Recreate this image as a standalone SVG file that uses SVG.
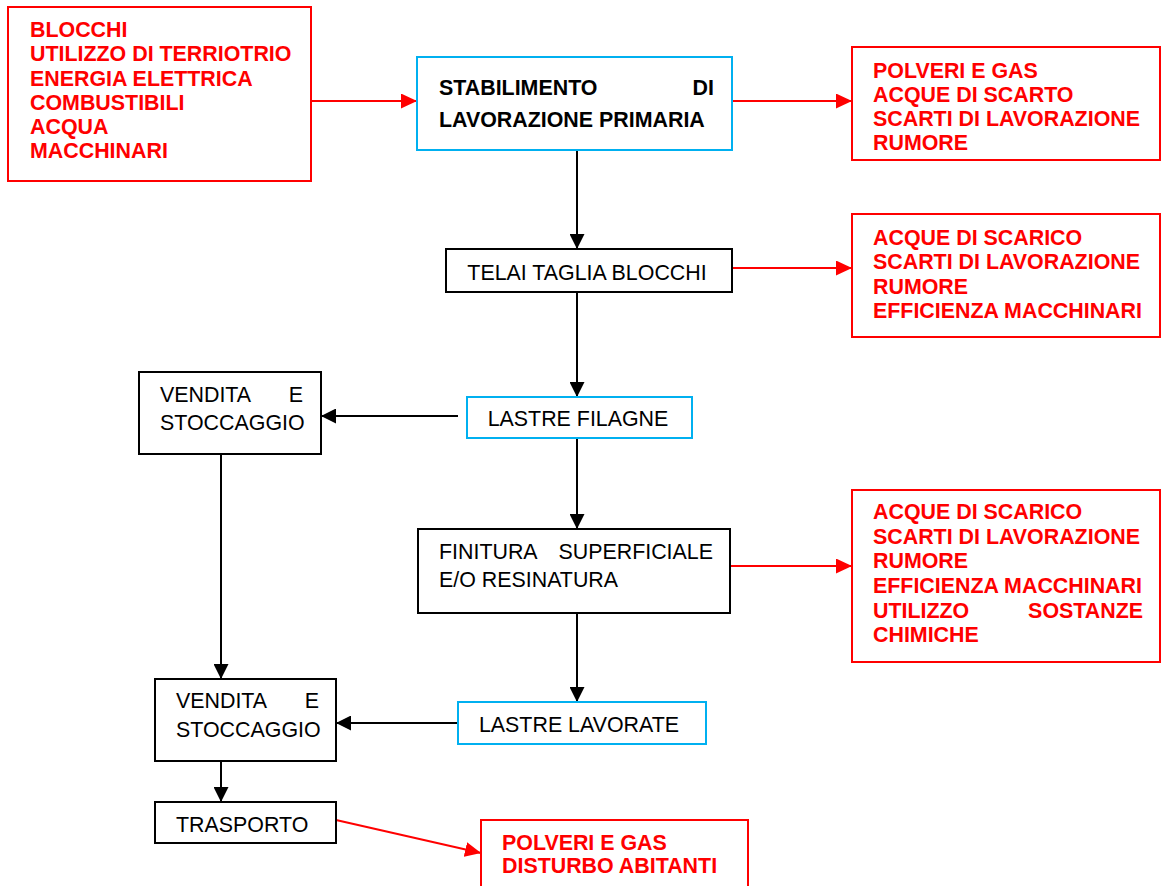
<svg xmlns="http://www.w3.org/2000/svg" width="1162" height="886" viewBox="0 0 1162 886">
  <defs>
    <marker id="arrowBlack" markerUnits="userSpaceOnUse" markerWidth="15" markerHeight="15" refX="15" refY="7.5" orient="auto">
      <path d="M0,0 L15,7.5 L0,15 Z" fill="#000"/>
    </marker>
    <marker id="arrowRed" markerUnits="userSpaceOnUse" markerWidth="16" markerHeight="15" refX="16" refY="7.5" orient="auto">
      <path d="M0,0 L16,7.5 L0,15 Z" fill="#ff0000"/>
    </marker>
    <style>
      .box { fill: #fff; stroke: #000; stroke-width: 2; }
      .blue { fill: #fff; stroke: #00b0f0; stroke-width: 2; }
      .red { fill: #fff; stroke: #ff0000; stroke-width: 2; }
      .t { font-family: "Liberation Sans", Arial, sans-serif; font-size: 21.4px; fill: #000; }
      .tb { font-family: "Liberation Sans", Arial, sans-serif; font-size: 21.4px; font-weight: bold; fill: #000; }
      .tr { font-family: "Liberation Sans", Arial, sans-serif; font-size: 21.4px; font-weight: bold; fill: #ff0000; }
      .k { fill: none; stroke: #000; stroke-width: 2; marker-end: url(#arrowBlack); }
      .r { fill: none; stroke: #ff0000; stroke-width: 2; marker-end: url(#arrowRed); }
    </style>
  </defs>
  <rect width="1162" height="886" fill="#fff"/>

  <g id="connectors">
    <path class="r" d="M311,101 H417"/>
    <path class="r" d="M732,101 H852"/>
    <path class="k" d="M577,150 V249"/>
    <path class="r" d="M732,268 H852"/>
    <path class="k" d="M577,292 V397"/>
    <path class="k" d="M458,416 H321"/>
    <path class="k" d="M577,438 V529"/>
    <path class="r" d="M730,566 H852"/>
    <path class="k" d="M577,613 V702"/>
    <path class="k" d="M458,723 H336"/>
    <path class="k" d="M221,454 V679"/>
    <path class="k" d="M221,761 V802"/>
    <path class="r" d="M336,820 L481,853"/>
  </g>

  <g id="inputs">
    <rect class="red" x="8" y="7" width="303" height="174"/>
    <text class="tr" x="30" y="37">BLOCCHI</text>
    <text class="tr" x="30" y="61">UTILIZZO DI TERRIOTRIO</text>
    <text class="tr" x="30" y="86">ENERGIA ELETTRICA</text>
    <text class="tr" x="30" y="110">COMBUSTIBILI</text>
    <text class="tr" x="30" y="134">ACQUA</text>
    <text class="tr" x="30" y="158">MACCHINARI</text>
  </g>

  <g id="stabilimento">
    <rect class="blue" x="417" y="57" width="315" height="93"/>
    <text class="tb" x="439" y="95">STABILIMENTO</text>
    <text class="tb" x="714" y="95" text-anchor="end">DI</text>
    <text class="tb" x="439" y="127">LAVORAZIONE PRIMARIA</text>
  </g>

  <g id="impatti-stabilimento">
    <rect class="red" x="852" y="47" width="308" height="113"/>
    <text class="tr" x="873" y="78">POLVERI E GAS</text>
    <text class="tr" x="873" y="102">ACQUE DI SCARTO</text>
    <text class="tr" x="873" y="126">SCARTI DI LAVORAZIONE</text>
    <text class="tr" x="873" y="150">RUMORE</text>
  </g>

  <g id="telai">
    <rect class="box" x="446" y="249" width="286" height="43"/>
    <text class="t" x="587" y="280" text-anchor="middle">TELAI TAGLIA BLOCCHI</text>
  </g>

  <g id="impatti-telai">
    <rect class="red" x="852" y="214" width="308" height="123"/>
    <text class="tr" x="873" y="245">ACQUE DI SCARICO</text>
    <text class="tr" x="873" y="269">SCARTI DI LAVORAZIONE</text>
    <text class="tr" x="873" y="294">RUMORE</text>
    <text class="tr" x="873" y="318">EFFICIENZA MACCHINARI</text>
  </g>

  <g id="lastre-filagne">
    <rect class="blue" x="467" y="397" width="225" height="41"/>
    <text class="t" x="578" y="426" text-anchor="middle">LASTRE FILAGNE</text>
  </g>

  <g id="vendita-1">
    <rect class="box" x="139" y="372" width="182" height="82"/>
    <text class="t" x="160" y="402">VENDITA</text>
    <text class="t" x="303" y="402" text-anchor="end">E</text>
    <text class="t" x="160" y="430">STOCCAGGIO</text>
  </g>

  <g id="finitura">
    <rect class="box" x="418" y="529" width="312" height="84"/>
    <text class="t" x="439" y="559">FINITURA</text>
    <text class="t" x="713" y="559" text-anchor="end">SUPERFICIALE</text>
    <text class="t" x="439" y="587">E/O RESINATURA</text>
  </g>

  <g id="impatti-finitura">
    <rect class="red" x="852" y="490" width="308" height="172"/>
    <text class="tr" x="873" y="519">ACQUE DI SCARICO</text>
    <text class="tr" x="873" y="544">SCARTI DI LAVORAZIONE</text>
    <text class="tr" x="873" y="568">RUMORE</text>
    <text class="tr" x="873" y="593">EFFICIENZA MACCHINARI</text>
    <text class="tr" x="873" y="618">UTILIZZO</text>
    <text class="tr" x="1143" y="618" text-anchor="end">SOSTANZE</text>
    <text class="tr" x="873" y="642">CHIMICHE</text>
  </g>

  <g id="lastre-lavorate">
    <rect class="blue" x="458" y="702" width="248" height="42"/>
    <text class="t" x="579" y="732" text-anchor="middle">LASTRE LAVORATE</text>
  </g>

  <g id="vendita-2">
    <rect class="box" x="155" y="679" width="181" height="82"/>
    <text class="t" x="176" y="708">VENDITA</text>
    <text class="t" x="319" y="708" text-anchor="end">E</text>
    <text class="t" x="176" y="737">STOCCAGGIO</text>
  </g>

  <g id="trasporto">
    <rect class="box" x="155" y="802" width="181" height="41"/>
    <text class="t" x="176" y="832">TRASPORTO</text>
  </g>

  <g id="impatti-trasporto">
    <rect class="red" x="481" y="820" width="267" height="72"/>
    <text class="tr" x="502" y="850">POLVERI E GAS</text>
    <text class="tr" x="502" y="873">DISTURBO ABITANTI</text>
  </g>
</svg>
